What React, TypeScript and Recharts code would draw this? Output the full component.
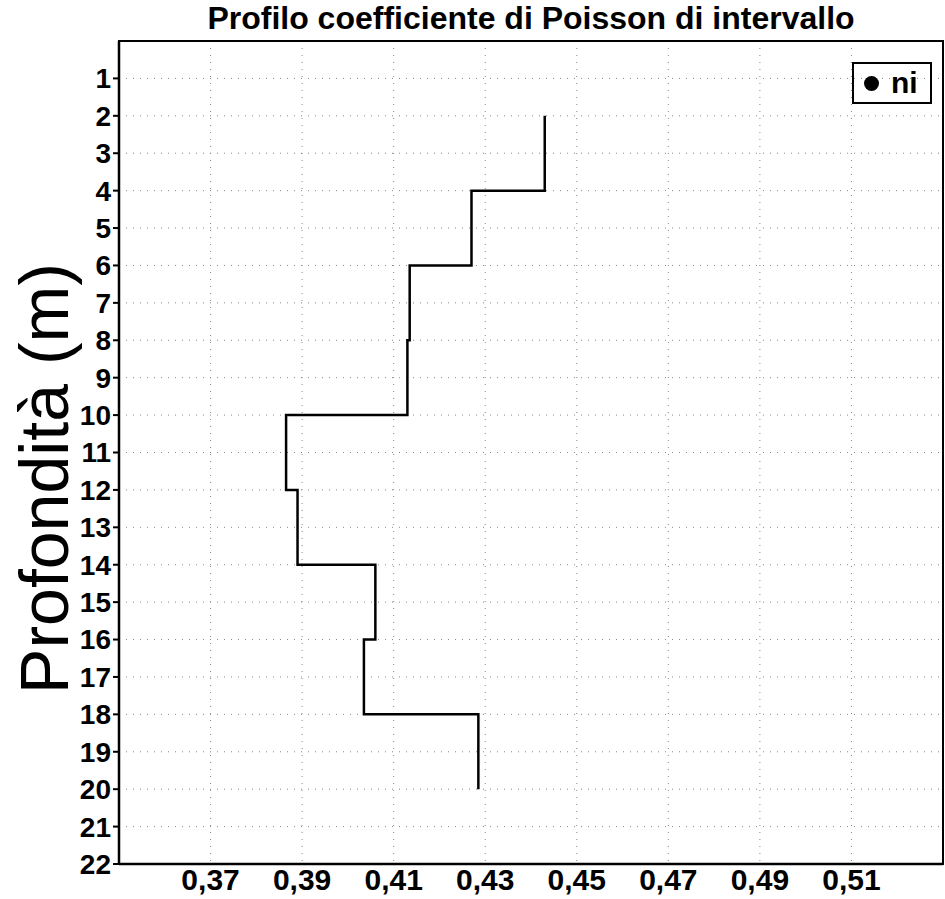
import { LineChart, Line, XAxis, YAxis, CartesianGrid, ReferenceArea } from 'recharts';

// profondità (m) where each interval starts, last entry = end of profile
const depths = [2, 4, 6, 8, 10, 12, 14, 16, 18, 20];
const ni = [0.443, 0.427, 0.4135, 0.413, 0.3865, 0.389, 0.406, 0.4035, 0.4285, 0.4285];
const niTicks = [0.37, 0.39, 0.41, 0.43, 0.45, 0.47, 0.49, 0.51];
const depthTicks = [1, 2, 3, 4, 5, 6, 7, 8, 9, 10, 11, 12, 13, 14, 15, 16, 17, 18, 19, 20, 21, 22];

const data = depths.map((d, i) => ({ depth: d, ni: ni[i] }));

const narrow = '"Liberation Sans Narrow", "Liberation Sans", Arial, sans-serif';

const DepthLabel = ({ viewBox }: any) => {
    const cy = viewBox.y + viewBox.height / 2 + 26;
    return (
        <text x={68} y={cy} transform={`rotate(-90, 68, ${cy})`} textAnchor="middle"
            fontFamily='"Liberation Sans", Arial, sans-serif' fontSize={68} fill="#000">
            Profondità (m)
        </text>
    );
};

const App = () => {
    return (
        <div style={{ position: 'absolute', left: 0, top: 0, width: 945, height: 899, background: '#fff' }}>
            <div style={{ position: 'absolute', left: 119, width: 824, top: 0, textAlign: 'center', fontFamily: narrow, fontWeight: 'bold', fontSize: 32, color: '#000' }}>
                Profilo coefficiente di Poisson di intervallo
            </div>
            <LineChart width={945} height={899} data={data} layout="vertical"
                margin={{ top: 41, right: 2, left: 0, bottom: 0 }}>
                <CartesianGrid stroke="#888" strokeDasharray="1 6" />
                <ReferenceArea x1={0.35} x2={0.53} y1={0} y2={22} fill="none" stroke="#000" strokeWidth={2} ifOverflow="visible" />
                <XAxis type="number" domain={[0.35, 0.53]} ticks={niTicks} allowDataOverflow
                    tickFormatter={(v: number) => v.toFixed(2).replace('.', ',')}
                    height={35} tickSize={3} tickLine={false}
                    axisLine={{ stroke: '#000', strokeWidth: 2.5 }}
                    tick={{ fill: '#000', fontSize: 30, fontWeight: 'bold', fontFamily: narrow }} />
                <YAxis type="number" dataKey="depth" domain={[0, 22]} ticks={depthTicks} interval={0}
                    width={119} tickSize={6}
                    axisLine={{ stroke: '#000', strokeWidth: 2.5 }}
                    tickLine={{ stroke: '#000', strokeWidth: 2 }}
                    tick={{ fill: '#000', fontSize: 28, fontWeight: 'bold', fontFamily: narrow }}
                    label={<DepthLabel />} />
                <Line dataKey="ni" type="stepBefore" stroke="#000" strokeWidth={2.5} dot={false} isAnimationActive={false} />
            </LineChart>
            <div style={{ position: 'absolute', left: 852, top: 62, width: 76, height: 38, border: '2px solid #000', display: 'flex', alignItems: 'center', fontFamily: narrow, fontWeight: 'bold', fontSize: 30, color: '#000' }}>
                <span style={{ display: 'inline-block', width: 15, height: 15, borderRadius: 8, background: '#000', marginLeft: 10, marginRight: 12 }} />
                ni
            </div>
        </div>
    );
};

export default App;
